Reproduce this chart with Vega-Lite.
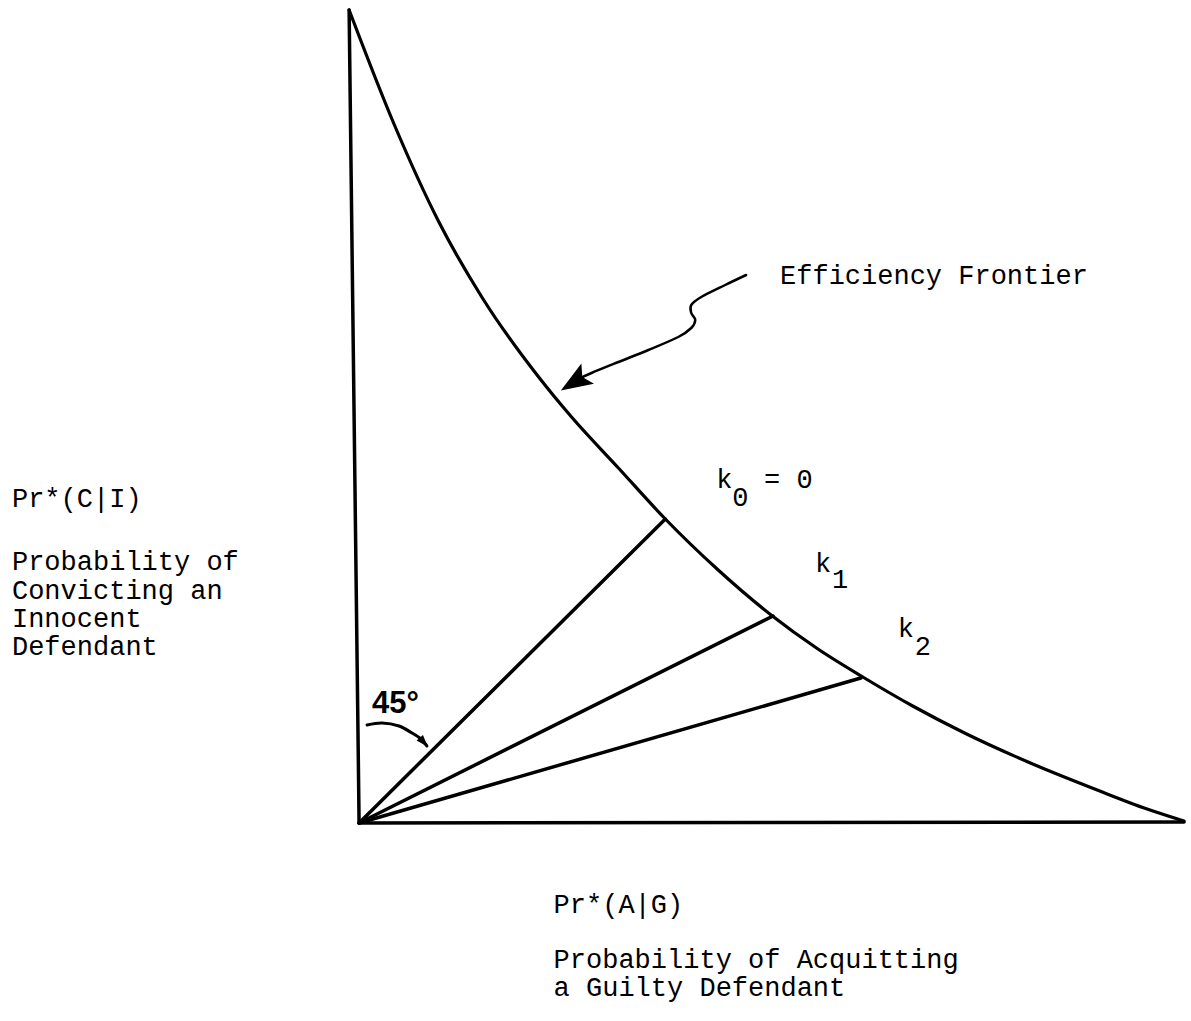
{
  "$schema": "https://vega.github.io/schema/vega-lite/v6.json",
  "width": 1191,
  "height": 1021,
  "autosize": {"type": "fit", "contains": "padding"},
  "padding": 0,
  "background": "white",
  "config": {"view": {"stroke": null}},
  "datasets": {
    "axes": [
      {"seg": "vertical", "i": 0, "x": -0.01209, "y": 1.0},
      {"seg": "vertical", "i": 1, "x": 0.0, "y": 0.0},
      {"seg": "horizontal", "i": 0, "x": 0.0, "y": 0.0},
      {"seg": "horizontal", "i": 1, "x": 1.0, "y": 0.00123}
    ],
    "frontier": [
      {"i": 0, "x": -0.01209, "y": 1.0},
      {"i": 1, "x": 0.04232, "y": 0.85978},
      {"i": 2, "x": 0.09674, "y": 0.73924},
      {"i": 3, "x": 0.14873, "y": 0.64699},
      {"i": 4, "x": 0.21765, "y": 0.54859},
      {"i": 5, "x": 0.25756, "y": 0.49939},
      {"i": 6, "x": 0.31439, "y": 0.43665},
      {"i": 7, "x": 0.37122, "y": 0.37392},
      {"i": 8, "x": 0.43531, "y": 0.31119},
      {"i": 9, "x": 0.4994, "y": 0.25584},
      {"i": 10, "x": 0.55623, "y": 0.21402},
      {"i": 11, "x": 0.61064, "y": 0.17958},
      {"i": 12, "x": 0.6711, "y": 0.14391},
      {"i": 13, "x": 0.73398, "y": 0.1107},
      {"i": 14, "x": 0.81378, "y": 0.0738},
      {"i": 15, "x": 0.8948, "y": 0.04059},
      {"i": 16, "x": 0.95526, "y": 0.01722},
      {"i": 17, "x": 1.0, "y": 0.00246}
    ],
    "rays": [
      {"ray": "k0", "i": 0, "x": 0.0, "y": 0.0},
      {"ray": "k0", "i": 1, "x": 0.37122, "y": 0.37392},
      {"ray": "k1", "i": 0, "x": 0.0, "y": 0.0},
      {"ray": "k1", "i": 1, "x": 0.50181, "y": 0.25461},
      {"ray": "k2", "i": 0, "x": 0.0, "y": 0.0},
      {"ray": "k2", "i": 1, "x": 0.60822, "y": 0.17835}
    ],
    "pointer": [
      {"i": 0, "x": 0.46917, "y": 0.67405},
      {"i": 1, "x": 0.44377, "y": 0.66175},
      {"i": 2, "x": 0.41475, "y": 0.64699},
      {"i": 3, "x": 0.40266, "y": 0.63715},
      {"i": 4, "x": 0.40266, "y": 0.62731},
      {"i": 5, "x": 0.4075, "y": 0.6187},
      {"i": 6, "x": 0.40266, "y": 0.60886},
      {"i": 7, "x": 0.38694, "y": 0.59779},
      {"i": 8, "x": 0.35067, "y": 0.5818},
      {"i": 9, "x": 0.31439, "y": 0.56704},
      {"i": 10, "x": 0.28174, "y": 0.55351},
      {"i": 11, "x": 0.26602, "y": 0.54613}
    ],
    "pointerHead": [
      {"x": 0.26082, "y": 0.54244}
    ],
    "arc45": [
      {"i": 0, "x": 0.00967, "y": 0.12054},
      {"i": 1, "x": 0.02781, "y": 0.123},
      {"i": 2, "x": 0.04837, "y": 0.11931},
      {"i": 3, "x": 0.06409, "y": 0.1107},
      {"i": 4, "x": 0.07497, "y": 0.10332},
      {"i": 5, "x": 0.08222, "y": 0.09471}
    ],
    "arcHead": [
      {"x": 0.07836, "y": 0.09938}
    ],
    "labels": [
      {"text": "Pr*(C|I)", "x": -0.4208, "y": 0.38868},
      {"text": "Probability of", "x": -0.4208, "y": 0.31119},
      {"text": "Convicting an", "x": -0.4208, "y": 0.27552},
      {"text": "Innocent", "x": -0.4208, "y": 0.24108},
      {"text": "Defendant", "x": -0.4208, "y": 0.20664},
      {"text": "Pr*(A|G)", "x": 0.23579, "y": -0.1107},
      {"text": "Probability of Acquitting", "x": 0.23579, "y": -0.17835},
      {"text": "a Guilty Defendant", "x": 0.23579, "y": -0.21279},
      {"text": "Efficiency Frontier", "x": 0.51028, "y": 0.66298},
      {"text": "k", "x": 0.43289, "y": 0.41205},
      {"text": "0", "x": 0.45224, "y": 0.38991},
      {"text": "= 0", "x": 0.49093, "y": 0.41205},
      {"text": "k", "x": 0.5526, "y": 0.30873},
      {"text": "1", "x": 0.57316, "y": 0.28905},
      {"text": "k", "x": 0.65296, "y": 0.22878},
      {"text": "2", "x": 0.67352, "y": 0.20664}
    ],
    "angleLabel": [
      {"text": "45°", "x": 0.01572, "y": 0.1353}
    ]
  },
  "encoding": {
    "x": {"field": "x", "type": "quantitative", "scale": {"domain": [-0.43531, 1.00484], "nice": false, "zero": false}, "axis": null},
    "y": {"field": "y", "type": "quantitative", "scale": {"domain": [-0.24354, 1.0123], "nice": false, "zero": false}, "axis": null}
  },
  "layer": [
    {
      "data": {"name": "axes"},
      "mark": {"type": "line", "color": "black", "strokeWidth": 3.5, "strokeCap": "round"},
      "encoding": {"detail": {"field": "seg"}, "order": {"field": "i", "type": "quantitative"}}
    },
    {
      "data": {"name": "frontier"},
      "mark": {"type": "line", "color": "black", "strokeWidth": 3.2, "interpolate": "monotone", "strokeCap": "round"},
      "encoding": {"order": {"field": "i", "type": "quantitative"}}
    },
    {
      "data": {"name": "rays"},
      "mark": {"type": "line", "color": "black", "strokeWidth": 3.5, "strokeCap": "round"},
      "encoding": {"detail": {"field": "ray"}, "order": {"field": "i", "type": "quantitative"}}
    },
    {
      "data": {"name": "pointer"},
      "mark": {"type": "line", "color": "black", "strokeWidth": 2.5, "interpolate": "cardinal", "strokeCap": "round"},
      "encoding": {"order": {"field": "i", "type": "quantitative"}}
    },
    {
      "data": {"name": "pointerHead"},
      "mark": {"type": "point", "filled": true, "color": "black", "opacity": 1, "shape": "M-1,0L1,-0.75L0.6,0L1,0.75Z", "size": 1000, "angle": 328}
    },
    {
      "data": {"name": "arc45"},
      "mark": {"type": "line", "color": "black", "strokeWidth": 3, "interpolate": "cardinal", "strokeCap": "round"},
      "encoding": {"order": {"field": "i", "type": "quantitative"}}
    },
    {
      "data": {"name": "arcHead"},
      "mark": {"type": "point", "filled": true, "color": "black", "opacity": 1, "shape": "M-1,0L1,-0.7L1,0.7Z", "size": 144, "angle": 229}
    },
    {
      "data": {"name": "labels"},
      "mark": {"type": "text", "font": "Liberation Mono", "fontSize": 27, "align": "left", "baseline": "alphabetic", "color": "black"},
      "encoding": {"text": {"field": "text"}}
    },
    {
      "data": {"name": "angleLabel"},
      "mark": {"type": "text", "font": "Liberation Sans", "fontWeight": "bold", "fontSize": 31, "align": "left", "baseline": "alphabetic", "color": "black"},
      "encoding": {"text": {"field": "text"}}
    }
  ]
}
